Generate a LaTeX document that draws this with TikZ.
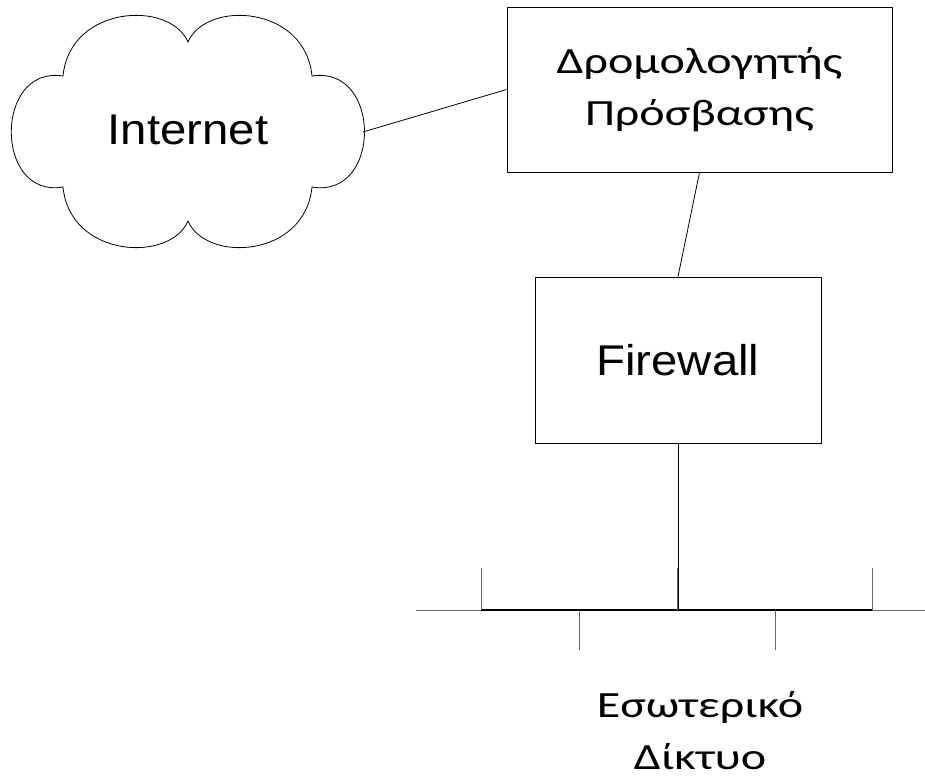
\documentclass[tikz,border=0pt]{standalone}
\usepackage{fontspec}
\setmainfont{Liberation Sans}
\newfontfamily\greekfont[FakeStretch=1.3]{Carlito}
\newfontfamily\latinfont[FakeStretch=1.1]{Liberation Sans}

\begin{document}
\begin{tikzpicture}[x=1pt,y=-1pt,line width=0.8pt,
  box/.style={draw, rectangle, inner sep=0pt},
  gr/.style={font=\greekfont\fontsize{37}{52}\selectfont, align=center, inner sep=0pt},
  lat/.style={font=\latinfont\fontsize{43}{50}\selectfont},
  tick/.style={line width=0.8pt, color=black!60}]
\useasboundingbox (0,0) rectangle (925,779);
% cloud
\draw (63,76) .. controls (70,5) and (170,0) .. (188,42)
  .. controls (206,0) and (305,5) .. (312,76)
  .. controls (382,65) and (382,199) .. (312,187)
  .. controls (305,258) and (206,263) .. (188,221)
  .. controls (170,263) and (70,258) .. (63,187)
  .. controls (-6,199) and (-6,65) .. cycle;
\node[lat] (internet) at (188,130) {Internet};
\coordinate (cloud) at (363,132);

\node[box, gr, minimum width=385pt, minimum height=165pt] (router) at (699.5,89.5) {Δρομολογητής\\Πρόσβασης};
\node[box, lat, minimum width=286pt, minimum height=166pt] (firewall) at (678,360) {Firewall};
\draw (cloud) -- (router.west);
\draw (router.south) -- (firewall.north);

% bus
\coordinate (tap) at (678,610);
\coordinate (busL) at (416,610);
\coordinate (busR) at (925,610);
\draw (firewall.south) -- (tap);
\draw[tick] (busL) -- (busR);
\draw[line width=1.5pt] (481,610) -- (872,610);
\foreach \x in {481,677,872}
  \draw[tick] (\x,568) -- (\x,610);
\foreach \x in {579,775}
  \draw[tick] (\x,610) -- (\x,650);
\node[gr] (lan) at (700,731) {Εσωτερικό\\Δίκτυο};
\end{tikzpicture}
\end{document}
